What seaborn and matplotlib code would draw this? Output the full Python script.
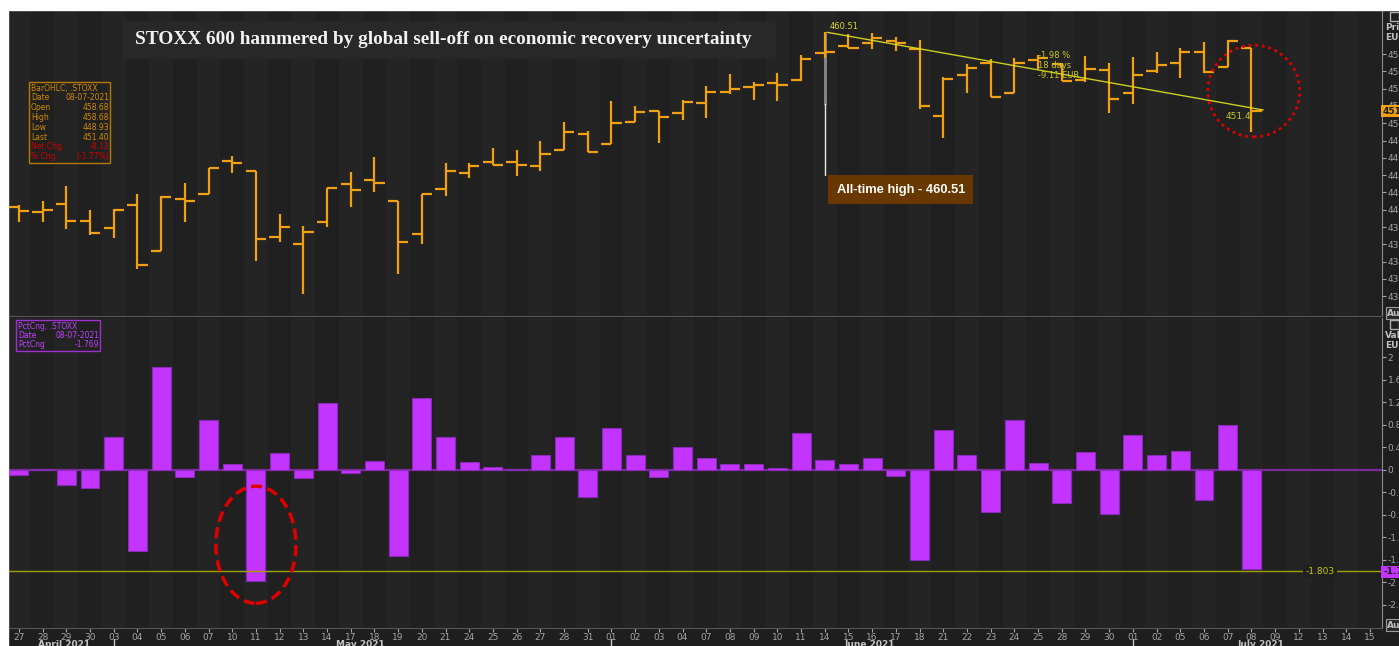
import numpy as np
import pandas as pd
import matplotlib
matplotlib.use("Agg")
import matplotlib.pyplot as plt
from matplotlib.patches import Ellipse, Rectangle
import seaborn as sns

# trading days shown on the axis (data stops at 08 July)
days = ["27", "28", "29", "30",
        "03", "04", "05", "06", "07", "10", "11", "12", "13", "14", "17", "18", "19", "20", "21",
        "24", "25", "26", "27", "28", "31",
        "01", "02", "03", "04", "07", "08", "09", "10", "11", "14", "15", "16", "17", "18", "21",
        "22", "23", "24", "25", "28", "29", "30",
        "01", "02", "05", "06", "07", "08", "09", "12", "13", "14", "15"]
months = ["April 2021", "May 2021", "June 2021", "July 2021"]
month_first = [0, 4, 25, 47]
month_last = [3, 24, 46, 57]

opens = [440.31, 439.73, 440.69, 438.73, 437.88, 440.58, 435.23, 441.24, 441.85, 445.67,
         444.44, 436.84, 436.03, 438.61, 442.97, 443.43, 441.01, 437.23, 442.39, 444.28,
         445.51, 445.51, 445.05, 446.94, 448.75, 447.56, 450.17, 451.45, 451.14, 452.34,
         453.64, 454.15, 454.68, 455.00, 458.15, 458.89, 459.31, 459.55, 458.58, 450.83,
         455.61, 456.92, 453.46, 457.30, 456.90, 454.99, 456.15, 453.53, 456.07, 456.92,
         458.27, 456.46, 458.68]
highs = [440.50, 441.04, 442.70, 439.93, 440.05, 441.78, 441.58, 443.12, 444.86, 446.24,
         444.44, 439.50, 438.12, 442.54, 444.32, 446.06, 441.01, 441.85, 445.36, 445.36,
         447.17, 446.87, 447.91, 450.10, 449.10, 452.53, 452.02, 451.45, 452.72, 454.34,
         455.65, 454.73, 455.77, 457.88, 460.51, 460.31, 460.39, 460.00, 459.62, 455.38,
         456.84, 457.39, 457.50, 457.90, 457.00, 457.80, 456.92, 457.69, 458.27, 458.66,
         459.42, 459.62, 458.68]
lows = [438.58, 438.58, 437.80, 437.11, 436.76, 433.18, 435.23, 438.58, 441.85, 444.28,
        434.03, 436.23, 430.29, 438.03, 440.31, 442.08, 432.53, 436.00, 441.62, 443.70,
        445.13, 443.93, 444.47, 446.94, 446.71, 447.56, 450.10, 447.75, 450.33, 450.64,
        453.34, 452.68, 452.60, 454.88, 457.50, 458.66, 458.54, 458.30, 451.64, 448.25,
        453.53, 453.06, 453.46, 456.30, 454.90, 454.80, 451.14, 452.18, 455.77, 455.19,
        455.84, 456.46, 448.93]
closes = [439.85, 439.97, 438.73, 437.34, 439.97, 433.64, 441.50, 441.01, 444.86, 445.36,
          436.58, 437.97, 437.39, 442.54, 442.28, 443.05, 436.30, 441.85, 444.47, 445.05,
          445.13, 445.20, 446.44, 448.95, 446.71, 450.06, 451.29, 450.75, 452.49, 453.57,
          453.95, 454.42, 454.45, 457.42, 458.27, 458.66, 459.81, 459.30, 451.99, 455.14,
          456.35, 453.06, 456.99, 457.58, 454.93, 456.27, 452.80, 455.57, 456.73, 458.27,
          455.95, 459.53, 451.40]
pct_chg = [-0.09, 0.02, -0.27, -0.32, 0.59, -1.44, 1.83, -0.12, 0.89, 0.10,
           -1.98, 0.30, -0.14, 1.19, -0.05, 0.16, -1.53, 1.28, 0.59, 0.14,
           0.05, 0.01, 0.27, 0.58, -0.48, 0.75, 0.27, -0.13, 0.41, 0.21,
           0.10, 0.10, 0.04, 0.66, 0.18, 0.11, 0.22, -0.11, -1.60, 0.71,
           0.26, -0.75, 0.89, 0.13, -0.58, 0.31, -0.78, 0.62, 0.26, 0.33,
           -0.53, 0.80, -1.769]

price_ticks = list(range(430, 459, 2))
pct_ticks = [-2.4, -2, -1.6, -1.2, -0.8, -0.4, 0, 0.4, 0.8, 1.2, 1.6, 2]

ORANGE = "#f0a010"
PURPLE = "#c434ff"
BG = "#202020"
STRIPE = "#242424"
GREY = "#a4a4a4"

sns.set_style("dark")
plt.rcParams["font.family"] = ["DejaVu Sans"]

W, H = 1399, 646
fig = plt.figure(figsize=(W / 100, H / 100), dpi=100, facecolor="#1e1e1e")


def ftext(x, y, s, **kw):
    return fig.text(x / W, 1 - y / H, s, **kw)


def frect(x0, y0, x1, y1, **kw):
    r = Rectangle((x0 / W, 1 - y1 / H), (x1 - x0) / W, (y1 - y0) / H,
                  transform=fig.transFigure, **kw)
    fig.patches.append(r)
    return r


ax = fig.add_axes([8 / W, 1 - 316 / H, (1382 - 8) / W, (316 - 10) / H])
axb = fig.add_axes([8 / W, 1 - 628 / H, (1382 - 8) / W, (628 - 318) / H])

n_all = len(days)
for a in (ax, axb):
    a.set_facecolor(BG)
    for i in range(-1, n_all + 1):
        if i % 2 == 0:
            a.axvspan(i - 0.5, i + 0.5, color=STRIPE, lw=0, zorder=0)
    a.set_xlim(-0.46, 57.51)
    for s in ("top", "left"):
        a.spines[s].set_visible(False)
    a.spines["right"].set_color("#8c8c8c")
    a.spines["bottom"].set_color("#555555")
    a.yaxis.tick_right()
    a.tick_params(axis="y", colors=GREY, labelsize=6.5, length=3, width=0.8, pad=1,
                  direction="out", right=True, left=False)
    a.grid(False)

# ---- top: OHLC bars
x = np.arange(len(closes))
ax.vlines(x, lows, highs, color=ORANGE, lw=1.6, zorder=3)
ax.hlines(opens, x - 0.43, x, color=ORANGE, lw=1.6, zorder=3)
ax.hlines(closes, x, x + 0.43, color=ORANGE, lw=1.6, zorder=3)
ax.set_ylim(427.71, 463.09)
ax.set_yticks(price_ticks)
ax.set_yticklabels([str(t) for t in price_ticks])
ax.set_xticks([])

# trend line from all-time high to last close
ax.plot([34.1, 52.5], [highs[34], 451.53], color="#e0e020", lw=1, alpha=0.9, zorder=4)
ax.text(34.2, 461.15, "460.51", color="#d8d820", fontsize=6, va="center", ha="left", zorder=5)
ax.text(52.0, 450.8, "451.4", color="#c8c820", fontsize=6.5, va="center", ha="right", zorder=5)
ax.text(43.0, 458.3, "-1.98 %\n18 days\n-9.11 EUR", color="#c8c820", fontsize=6,
        va="top", ha="left", linespacing=1.1, zorder=5)

# all-time high callout
ax.plot([34, 34], [highs[34] - 0.1, 452.2], color="#8a8a8a", lw=2, zorder=2)
ax.plot([34, 34], [452.2, 444.0], color="#e8e8e8", lw=1, zorder=2)
ax.text(34.5, 442.3, "All-time high - 460.51", color="white", weight="bold", fontsize=9.3,
        family="Liberation Sans", ha="left", va="center", zorder=6,
        bbox=dict(boxstyle="square,pad=0.65", fc="#683800", ec="none"))

ax.add_patch(Ellipse((52.1, 453.72), 3.88, 10.6, fill=False, ec="#e00000",
                     lw=2, ls=(0, (1, 1.4)), zorder=6))

# ---- bottom: daily % change
df = pd.DataFrame({"day": np.arange(len(pct_chg)), "pct": pct_chg})
sns.barplot(data=df, x="day", y="pct", ax=axb, color=PURPLE, saturation=1, width=0.8,
            edgecolor="#8a2ab8", linewidth=0.8, zorder=2)
axb.set_xlabel("")
axb.set_ylabel("")
axb.set_xlim(-0.46, 57.51)
axb.set_ylim(-2.81, 2.70)
axb.set_yticks(pct_ticks)
axb.set_yticklabels(["%g" % t for t in pct_ticks])
axb.set_xticks(range(n_all))
axb.set_xticklabels(days)
axb.tick_params(axis="x", colors=GREY, labelsize=6.5, length=3, width=0.8, pad=0.5,
                direction="out", bottom=True)
axb.axhline(0, color="#7a2a9a", lw=1.6, zorder=1.5)
axb.axhline(-1.803, color="#a0a000", lw=1, zorder=3)
axb.text(54.9, -1.803, "-1.803", color="#c8c800", fontsize=6.5, ha="center", va="center",
         zorder=4, bbox=dict(boxstyle="square,pad=0.25", fc=BG, ec="none"))
axb.add_patch(Ellipse((10.0, -1.33), 3.38, 2.08, fill=False, ec="#e00000",
                      lw=2.5, ls=(0, (3.2, 1.6)), zorder=6))

# month labels and separators under the day numbers
xt = axb.get_xaxis_transform()
for name, a0, a1 in zip(months, month_first, month_last):
    axb.text((a0 + a1) / 2 + 0.4, -0.040, name, transform=xt, color="#c4c4c4",
             fontsize=6.5, weight="bold", ha="center", va="top", clip_on=False)
for a0 in month_first[1:]:
    axb.plot([a0, a0], [-0.036, -0.07], transform=xt, color="#c8c8c8", lw=1, clip_on=False)

# ---- page furniture
frect(0, 0, W, 10, color="white", zorder=10)
frect(0, 0, 8, H, color="white", zorder=10)
frect(123, 21, 775, 58, color="#282828", zorder=2)
ftext(135, 39.5, "STOXX 600 hammered by global sell-off on economic recovery uncertainty",
      family="Liberation Serif", weight="bold", fontsize=13.9, color="#f2f2f2",
      ha="left", va="center", zorder=3)

# OHLC data box
frect(29, 82, 110, 163, fill=False, ec="#b87800", lw=1, zorder=3)
rows = [("BarOHLC, .STOXX", "", "#d08a00"), ("Date", "08-07-2021", "#d08a00"),
        ("Open", "458.68", "#d08a00"), ("High", "458.68", "#d08a00"),
        ("Low", "448.93", "#d08a00"), ("Last", "451.40", "#d08a00"),
        ("Net Chg", "-8.13", "#d00000"), ("% Chg", "(-1.77%)", "#d00000")]
for k, (lab, val, col) in enumerate(rows):
    yy = 88 + k * 9.8
    ftext(31, yy, lab, fontsize=5.5, color=col, va="center", ha="left", zorder=4)
    if val:
        ftext(109, yy, val, fontsize=5.5, color=col, va="center", ha="right", zorder=4)

# pct data box
frect(16, 320, 100, 351, fill=False, ec="#a030d0", lw=1, zorder=3)
rows = [("PctCng, .STOXX", ""), ("Date", "08-07-2021"), ("PctCng", "-1.769")]
for k, (lab, val) in enumerate(rows):
    yy = 326 + k * 9.2
    ftext(18, yy, lab, fontsize=5.5, color="#c040ff", va="center", ha="left", zorder=4)
    if val:
        ftext(99, yy, val, fontsize=5.5, color="#c040ff", va="center", ha="right", zorder=4)

# right axis headers and last-value flags
for y0, a, b in ((12, "Price", "EUR"), (320, "Value", "EUR")):
    frect(1390, y0, 1399, y0 + 9, fill=False, ec="#b0b0b0", lw=1, zorder=4)
    ftext(1385, y0 + 15, a, fontsize=6.5, weight="bold", color="#c0c0c0", va="center", zorder=4)
    ftext(1385, y0 + 26, b, fontsize=6.5, weight="bold", color="#c0c0c0", va="center", zorder=4)
for y0 in (313, 625):
    ftext(1387, y0, "Aug", fontsize=6.5, weight="bold", color="#c0c0c0", va="center", zorder=4,
          bbox=dict(boxstyle="square,pad=0.15", fc="#2a2a2a", ec="#9a9a9a", lw=0.8))
ftext(1383, 111, "451.40", fontsize=6.5, weight="bold", color="#1a1a1a", va="center", zorder=5,
      bbox=dict(boxstyle="square,pad=0.2", fc=ORANGE, ec="none"))
ftext(1383, 572, "-1.769", fontsize=6.5, weight="bold", color="#1a1a1a", va="center", zorder=5,
      bbox=dict(boxstyle="square,pad=0.2", fc=PURPLE, ec="none"))

fig.savefig("out.png", dpi=100, facecolor=fig.get_facecolor())
